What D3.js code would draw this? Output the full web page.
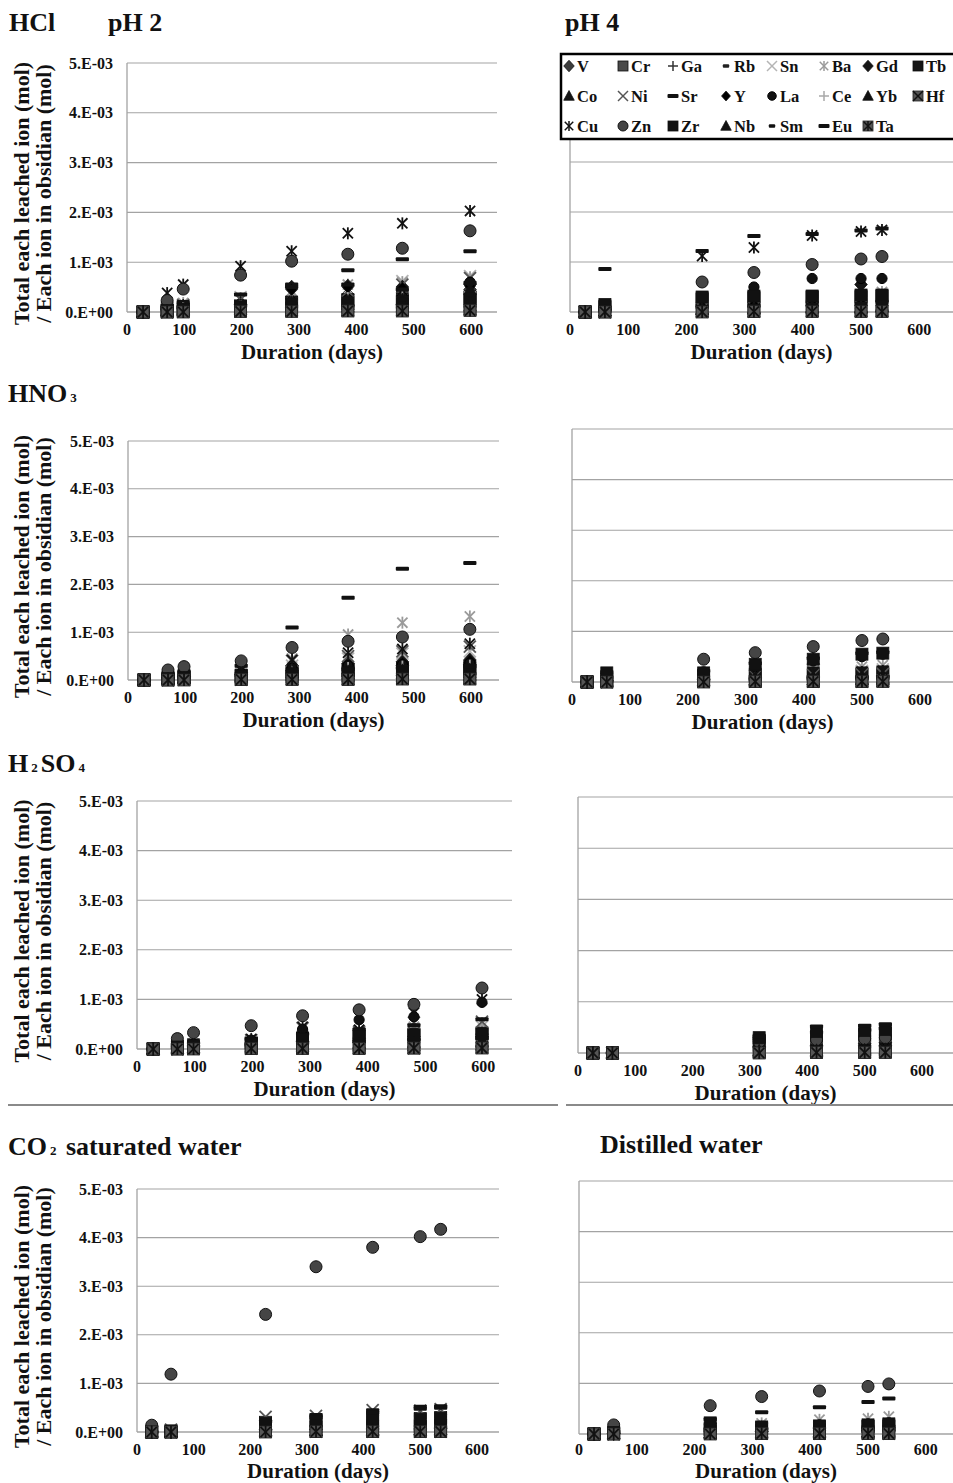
<!DOCTYPE html>
<html>
<head>
<meta charset="utf-8">
<script src="https://cdn.jsdelivr.net/npm/d3@7"></script>
<style>
  body { margin: 0; background: #fff; }
  svg { display: block; font-family: "Liberation Serif", "Times New Roman", serif; font-weight: bold; }
</style>
</head>
<body>
<svg id="chart" width="953" height="1483"></svg>
<script>
// ---------------------------------------------------------------------------
// Data: leached amount of each ion / amount of that ion in obsidian,
// values in units of 1E-03 (mol/mol). Rows follow the `elements` order.
// ---------------------------------------------------------------------------
const elements = ["V","Cr","Ga","Rb","Sn","Ba","Gd","Tb","Co","Ni","Sr","Y","La","Ce","Yb","Hf","Cu","Zn","Zr","Nb","Sm","Eu","Ta"];

// sampling days
const daysPH2 = [28, 70, 98, 198, 287, 385, 480, 598];
const daysPH4 = [26, 60, 227, 316, 416, 500, 536];

const xTickValues = [0, 100, 200, 300, 400, 500, 600];
const yTickValues = [0, 1, 2, 3, 4, 5];
const yTickLabels = ["0.E+00", "1.E-03", "2.E-03", "3.E-03", "4.E-03", "5.E-03"];

const hclPH2 = [
  [0.00,0.05,0.08,0.15,0.30,0.35,0.40,0.45], // V
  [0.00,0.04,0.06,0.12,0.18,0.22,0.25,0.30], // Cr
  [0.00,0.03,0.05,0.10,0.20,0.25,0.28,0.35], // Ga
  [0.00,0.02,0.04,0.08,0.12,0.15,0.18,0.22], // Rb
  [0.00,0.10,0.15,0.30,0.40,0.45,0.62,0.72], // Sn
  [0.00,0.12,0.18,0.28,0.42,0.55,0.60,0.70], // Ba
  [0.00,0.08,0.12,0.18,0.50,0.52,0.50,0.55], // Gd
  [0.00,0.04,0.06,0.12,0.20,0.25,0.22,0.30], // Tb
  [0.00,0.02,0.03,0.05,0.08,0.10,0.10,0.12], // Co
  [0.00,0.08,0.14,0.25,0.35,0.42,0.55,0.68], // Ni
  [0.00,0.10,0.20,0.35,0.55,0.84,1.06,1.22], // Sr
  [0.00,0.06,0.10,0.15,0.45,0.50,0.48,0.52], // Y
  [0.00,0.05,0.08,0.12,0.22,0.25,0.30,0.60], // La
  [0.00,0.05,0.08,0.12,0.22,0.28,0.30,0.40], // Ce
  [0.00,0.04,0.06,0.10,0.20,0.22,0.25,0.45], // Yb
  [0.00,0.00,0.01,0.02,0.03,0.03,0.04,0.05], // Hf
  [0.00,0.38,0.55,0.92,1.22,1.58,1.78,2.03], // Cu
  [0.00,0.23,0.46,0.74,1.02,1.16,1.28,1.63], // Zn
  [0.00,0.03,0.05,0.10,0.15,0.18,0.20,0.25], // Zr
  [0.00,0.02,0.04,0.08,0.12,0.15,0.18,0.20], // Nb
  [0.00,0.04,0.06,0.10,0.18,0.22,0.25,0.35], // Sm
  [0.00,0.05,0.08,0.12,0.50,0.55,0.45,0.58], // Eu
  [0.00,0.00,0.00,0.01,0.01,0.02,0.02,0.03]  // Ta
];

const hclPH4 = [
  [0.00,0.05,0.15,0.18,0.20,0.20,0.22], // V
  [0.00,0.10,0.25,0.28,0.30,0.30,0.32], // Cr
  [0.00,0.03,0.08,0.10,0.12,0.12,0.14], // Ga
  [0.00,0.02,0.06,0.08,0.10,0.10,0.12], // Rb
  [0.00,0.03,0.10,0.12,0.15,0.18,0.30], // Sn
  [0.00,0.05,0.15,0.20,0.25,0.30,0.40], // Ba
  [0.00,0.04,0.12,0.15,0.18,0.55,0.22], // Gd
  [0.00,0.12,0.28,0.30,0.30,0.32,0.32], // Tb
  [0.00,0.02,0.05,0.06,0.08,0.08,0.10], // Co
  [0.00,0.03,0.08,0.10,0.12,0.12,0.15], // Ni
  [0.00,0.86,1.22,1.52,1.56,1.63,1.67], // Sr
  [0.00,0.04,0.10,0.14,0.16,0.18,0.20], // Y
  [0.00,0.06,0.30,0.50,0.67,0.67,0.67], // La
  [0.00,0.03,0.08,0.10,0.12,0.14,0.16], // Ce
  [0.00,0.03,0.06,0.08,0.10,0.10,0.12], // Yb
  [0.00,0.00,0.01,0.01,0.02,0.02,0.02], // Hf
  [0.00,0.05,1.12,1.29,1.53,1.61,1.64], // Cu
  [0.00,0.08,0.60,0.79,0.95,1.06,1.11], // Zn
  [0.00,0.15,0.30,0.32,0.32,0.34,0.34], // Zr
  [0.00,0.02,0.05,0.06,0.08,0.08,0.10], // Nb
  [0.00,0.03,0.08,0.10,0.12,0.12,0.14], // Sm
  [0.00,0.04,0.10,0.12,0.14,0.16,0.18], // Eu
  [0.00,0.00,0.00,0.01,0.01,0.01,0.01]  // Ta
];

const hno3PH2 = [
  [0.00,0.05,0.08,0.12,0.20,0.25,0.30,0.32], // V
  [0.00,0.04,0.06,0.10,0.15,0.20,0.22,0.25], // Cr
  [0.00,0.03,0.05,0.08,0.12,0.15,0.18,0.20], // Ga
  [0.00,0.02,0.04,0.06,0.10,0.12,0.14,0.16], // Rb
  [0.00,0.05,0.08,0.15,0.30,0.45,0.55,0.60], // Sn
  [0.00,0.08,0.12,0.22,0.45,0.95,1.20,1.33], // Ba
  [0.00,0.05,0.08,0.15,0.30,0.35,0.38,0.42], // Gd
  [0.00,0.04,0.06,0.10,0.18,0.22,0.25,0.28], // Tb
  [0.00,0.02,0.03,0.04,0.06,0.08,0.08,0.10], // Co
  [0.00,0.06,0.10,0.20,0.40,0.50,0.60,0.70], // Ni
  [0.00,0.12,0.18,0.30,1.10,1.72,2.33,2.45], // Sr
  [0.00,0.04,0.06,0.12,0.25,0.30,0.35,0.40], // Y
  [0.00,0.05,0.08,0.14,0.25,0.30,0.32,0.35], // La
  [0.00,0.04,0.06,0.10,0.20,0.25,0.28,0.30], // Ce
  [0.00,0.03,0.05,0.08,0.15,0.18,0.20,0.22], // Yb
  [0.00,0.00,0.01,0.01,0.02,0.02,0.03,0.03], // Hf
  [0.00,0.08,0.12,0.20,0.42,0.57,0.65,0.76], // Cu
  [0.00,0.21,0.28,0.40,0.68,0.81,0.90,1.06], // Zn
  [0.00,0.03,0.05,0.08,0.12,0.15,0.18,0.20], // Zr
  [0.00,0.02,0.04,0.06,0.10,0.12,0.14,0.15], // Nb
  [0.00,0.03,0.05,0.08,0.14,0.18,0.20,0.22], // Sm
  [0.00,0.04,0.06,0.10,0.18,0.22,0.25,0.28], // Eu
  [0.00,0.00,0.00,0.01,0.01,0.01,0.02,0.02]  // Ta
];

const hno3PH4 = [
  [0.00,0.02,0.05,0.06,0.08,0.08,0.10], // V
  [0.00,0.05,0.10,0.12,0.14,0.15,0.16], // Cr
  [0.00,0.02,0.04,0.05,0.06,0.07,0.08], // Ga
  [0.00,0.02,0.03,0.04,0.05,0.06,0.06], // Rb
  [0.00,0.03,0.10,0.18,0.20,0.22,0.25], // Sn
  [0.00,0.05,0.15,0.28,0.29,0.30,0.33], // Ba
  [0.00,0.03,0.06,0.08,0.10,0.10,0.12], // Gd
  [0.00,0.06,0.12,0.15,0.18,0.18,0.20], // Tb
  [0.00,0.01,0.02,0.03,0.04,0.04,0.05], // Co
  [0.00,0.03,0.08,0.12,0.14,0.15,0.16], // Ni
  [0.00,0.20,0.22,0.37,0.47,0.57,0.59], // Sr
  [0.00,0.02,0.05,0.07,0.08,0.09,0.10], // Y
  [0.00,0.04,0.20,0.30,0.42,0.50,0.55], // La
  [0.00,0.02,0.05,0.08,0.10,0.12,0.14], // Ce
  [0.00,0.02,0.04,0.05,0.45,0.07,0.08], // Yb
  [0.00,0.00,0.01,0.01,0.01,0.01,0.02], // Hf
  [0.00,0.04,0.10,0.15,0.18,0.20,0.22], // Cu
  [0.00,0.08,0.45,0.58,0.70,0.82,0.85], // Zn
  [0.00,0.18,0.18,0.35,0.45,0.55,0.57], // Zr
  [0.00,0.01,0.03,0.04,0.05,0.05,0.06], // Nb
  [0.00,0.02,0.04,0.05,0.06,0.07,0.08], // Sm
  [0.00,0.02,0.04,0.06,0.07,0.08,0.09], // Eu
  [0.00,0.00,0.00,0.01,0.01,0.01,0.01]  // Ta
];

const h2so4PH2 = [
  [0.00,0.04,0.06,0.10,0.15,0.18,0.20,0.25], // V
  [0.00,0.05,0.08,0.12,0.20,0.25,0.28,0.30], // Cr
  [0.00,0.03,0.04,0.08,0.12,0.15,0.18,0.20], // Ga
  [0.00,0.02,0.03,0.05,0.08,0.10,0.12,0.14], // Rb
  [0.00,0.05,0.08,0.15,0.25,0.30,0.40,0.45], // Sn
  [0.00,0.06,0.10,0.18,0.30,0.38,0.45,0.52], // Ba
  [0.00,0.04,0.06,0.10,0.18,0.22,0.25,0.30], // Gd
  [0.00,0.05,0.08,0.12,0.22,0.28,0.30,0.32], // Tb
  [0.00,0.01,0.02,0.03,0.05,0.06,0.07,0.08], // Co
  [0.00,0.05,0.08,0.18,0.42,0.35,0.53,0.55], // Ni
  [0.00,0.08,0.12,0.20,0.30,0.40,0.48,0.60], // Sr
  [0.00,0.03,0.05,0.08,0.15,0.18,0.22,0.25], // Y
  [0.00,0.06,0.10,0.18,0.40,0.59,0.65,0.94], // La
  [0.00,0.03,0.05,0.08,0.12,0.15,0.18,0.20], // Ce
  [0.00,0.02,0.04,0.06,0.10,0.12,0.14,0.16], // Yb
  [0.00,0.00,0.01,0.01,0.02,0.02,0.02,0.03], // Hf
  [0.00,0.06,0.10,0.20,0.45,0.39,0.73,1.00], // Cu
  [0.00,0.21,0.33,0.47,0.67,0.79,0.90,1.23], // Zn
  [0.00,0.04,0.06,0.10,0.20,0.25,0.28,0.30], // Zr
  [0.00,0.02,0.03,0.05,0.08,0.10,0.12,0.14], // Nb
  [0.00,0.02,0.04,0.06,0.10,0.12,0.15,0.18], // Sm
  [0.00,0.03,0.05,0.08,0.12,0.15,0.18,0.22], // Eu
  [0.00,0.00,0.00,0.01,0.01,0.01,0.02,0.02]  // Ta
];

// no sample was taken at day 227 in this series
const h2so4PH4 = [
  [0.00,0.00,null,0.10,0.12,0.14,0.15], // V
  [0.00,0.00,null,0.15,0.20,0.22,0.24], // Cr
  [0.00,0.00,null,0.06,0.08,0.10,0.10], // Ga
  [0.00,0.00,null,0.05,0.06,0.07,0.08], // Rb
  [0.00,0.00,null,0.08,0.12,0.15,0.18], // Sn
  [0.00,0.00,null,0.10,0.15,0.20,0.22], // Ba
  [0.00,0.00,null,0.12,0.15,0.18,0.20], // Gd
  [0.00,0.00,null,0.25,0.32,0.36,0.38], // Tb
  [0.00,0.00,null,0.02,0.03,0.04,0.04], // Co
  [0.00,0.00,null,0.08,0.10,0.12,0.14], // Ni
  [0.00,0.00,null,0.28,0.40,0.45,0.48], // Sr
  [0.00,0.00,null,0.10,0.12,0.14,0.16], // Y
  [0.00,0.00,null,0.20,0.25,0.30,0.32], // La
  [0.00,0.00,null,0.06,0.08,0.10,0.12], // Ce
  [0.00,0.00,null,0.05,0.06,0.08,0.08], // Yb
  [0.00,0.00,null,0.01,0.01,0.01,0.02], // Hf
  [0.00,0.00,null,0.05,0.07,0.08,0.10], // Cu
  [0.00,0.00,null,0.22,0.26,0.28,0.30], // Zn
  [0.00,0.00,null,0.30,0.42,0.44,0.46], // Zr
  [0.00,0.00,null,0.04,0.05,0.06,0.07], // Nb
  [0.00,0.00,null,0.05,0.06,0.07,0.08], // Sm
  [0.00,0.00,null,0.32,0.52,0.53,0.56], // Eu
  [0.00,0.00,null,0.00,0.01,0.01,0.01]  // Ta
];

const co2Water = [
  [0.00,0.00,0.05,0.06,0.08,0.08,0.10], // V
  [0.00,0.02,0.20,0.25,0.28,0.28,0.30], // Cr
  [0.00,0.00,0.03,0.04,0.05,0.05,0.06], // Ga
  [0.00,0.00,0.03,0.04,0.05,0.06,0.06], // Rb
  [0.00,0.01,0.08,0.10,0.12,0.14,0.15], // Sn
  [0.00,0.02,0.10,0.15,0.20,0.22,0.24], // Ba
  [0.00,0.00,0.04,0.05,0.06,0.06,0.07], // Gd
  [0.00,0.00,0.08,0.10,0.12,0.12,0.14], // Tb
  [0.00,0.00,0.02,0.03,0.03,0.04,0.04], // Co
  [0.00,0.05,0.31,0.33,0.45,0.44,0.47], // Ni
  [0.00,0.04,0.22,0.35,0.45,0.52,0.53], // Sr
  [0.00,0.00,0.04,0.05,0.06,0.06,0.07], // Y
  [0.00,0.02,0.12,0.15,0.18,0.20,0.22], // La
  [0.00,0.00,0.04,0.05,0.06,0.07,0.08], // Ce
  [0.00,0.00,0.03,0.04,0.05,0.05,0.06], // Yb
  [0.00,0.00,0.01,0.01,0.01,0.01,0.01], // Hf
  [0.00,0.02,0.08,0.10,0.12,0.13,0.14], // Cu
  [0.14,1.19,2.42,3.40,3.80,4.02,4.17], // Zn
  [0.00,0.02,0.18,0.22,0.25,0.26,0.28], // Zr
  [0.00,0.00,0.02,0.03,0.04,0.04,0.05], // Nb
  [0.00,0.00,0.03,0.04,0.05,0.05,0.06], // Sm
  [0.00,0.00,0.04,0.30,0.40,0.48,0.50], // Eu
  [0.00,0.00,0.00,0.01,0.01,0.01,0.01]  // Ta
];

const distilledWater = [
  [0.00,0.01,0.04,0.05,0.06,0.06,0.07], // V
  [0.00,0.02,0.10,0.12,0.14,0.15,0.16], // Cr
  [0.00,0.01,0.03,0.04,0.05,0.05,0.06], // Ga
  [0.00,0.01,0.03,0.04,0.04,0.05,0.05], // Rb
  [0.00,0.02,0.08,0.12,0.15,0.18,0.20], // Sn
  [0.00,0.03,0.15,0.21,0.28,0.30,0.34], // Ba
  [0.00,0.01,0.04,0.05,0.06,0.07,0.08], // Gd
  [0.00,0.02,0.10,0.12,0.14,0.15,0.16], // Tb
  [0.00,0.00,0.02,0.02,0.03,0.03,0.03], // Co
  [0.00,0.02,0.08,0.10,0.12,0.14,0.15], // Ni
  [0.00,0.05,0.29,0.43,0.53,0.63,0.70], // Sr
  [0.00,0.01,0.04,0.05,0.06,0.07,0.08], // Y
  [0.00,0.02,0.12,0.15,0.18,0.20,0.22], // La
  [0.00,0.01,0.04,0.05,0.06,0.07,0.08], // Ce
  [0.00,0.01,0.03,0.04,0.05,0.05,0.06], // Yb
  [0.00,0.00,0.01,0.01,0.01,0.01,0.01], // Hf
  [0.00,0.02,0.10,0.14,0.16,0.18,0.20], // Cu
  [0.00,0.18,0.56,0.74,0.85,0.94,0.99], // Zn
  [0.00,0.03,0.22,0.14,0.16,0.18,0.20], // Zr
  [0.00,0.01,0.02,0.03,0.04,0.04,0.05], // Nb
  [0.00,0.01,0.03,0.04,0.05,0.05,0.06], // Sm
  [0.00,0.02,0.08,0.10,0.12,0.14,0.15], // Eu
  [0.00,0.00,0.00,0.01,0.01,0.01,0.01]  // Ta
];

// ---------------------------------------------------------------------------
// Marker styles (Excel-like marker types)
// ---------------------------------------------------------------------------
const markerStyle = {
  V:  { shape: "diamond",    fill: "#3c3c3c" },
  Cr: { shape: "square",     fill: "#4a4a4a" },
  Ga: { shape: "plus",       stroke: "#333" },
  Rb: { shape: "shortdash",  fill: "#222" },
  Sn: { shape: "x",          stroke: "#b4b4b4" },
  Ba: { shape: "star",       stroke: "#9a9a9a" },
  Gd: { shape: "diamond",    fill: "#151515" },
  Tb: { shape: "square",     fill: "#151515" },
  Co: { shape: "triangle",   fill: "#151515" },
  Ni: { shape: "x",          stroke: "#555" },
  Sr: { shape: "longdash",   fill: "#111" },
  Y:  { shape: "diamond",    fill: "#000", scale: 0.85 },
  La: { shape: "circle",     fill: "#111", scale: 0.85 },
  Ce: { shape: "plus",       stroke: "#a8a8a8" },
  Yb: { shape: "triangle",   fill: "#111" },
  Hf: { shape: "squareX",    fill: "#555", stroke: "#111" },
  Cu: { shape: "star",       stroke: "#111" },
  Zn: { shape: "circle",     fill: "#454545", stroke: "#111" },
  Zr: { shape: "square",     fill: "#111" },
  Nb: { shape: "triangle",   fill: "#111" },
  Sm: { shape: "shortdash",  fill: "#111" },
  Eu: { shape: "longdash",   fill: "#111" },
  Ta: { shape: "squareStar", fill: "#555", stroke: "#111" }
};

function drawMarker(sel, el, cx, cy, size) {
  const st = markerStyle[el];
  const s = size * (st.scale || 1);
  const h = s / 2;
  const g = sel.append("g").attr("transform", `translate(${cx},${cy})`);
  const lineW = Math.max(1.4, s * 0.15);
  const lines = (segs, color) => segs.forEach(([x1, y1, x2, y2]) =>
    g.append("line").attr("x1", x1).attr("y1", y1).attr("x2", x2).attr("y2", y2)
      .attr("stroke", color).attr("stroke-width", lineW).attr("stroke-linecap", "butt"));
  const xSegs = [[-h, -h, h, h], [-h, h, h, -h]];
  const starSegs = [[-h * 0.85, -h * 0.85, h * 0.85, h * 0.85], [-h * 0.85, h * 0.85, h * 0.85, -h * 0.85], [0, -h, 0, h]];
  switch (st.shape) {
    case "circle":
      g.append("circle").attr("r", h).attr("fill", st.fill)
        .attr("stroke", st.stroke || "#000").attr("stroke-width", 1);
      break;
    case "square":
      g.append("rect").attr("x", -h).attr("y", -h).attr("width", s).attr("height", s)
        .attr("fill", st.fill).attr("stroke", "#111").attr("stroke-width", 0.8);
      break;
    case "diamond":
      g.append("path").attr("d", `M0,${-h * 1.15}L${h * 1.05},0L0,${h * 1.15}L${-h * 1.05},0Z`)
        .attr("fill", st.fill).attr("stroke", "#111").attr("stroke-width", 0.8);
      break;
    case "triangle":
      g.append("path").attr("d", `M0,${-h * 1.1}L${h * 1.05},${h * 0.85}L${-h * 1.05},${h * 0.85}Z`)
        .attr("fill", st.fill).attr("stroke", "#111").attr("stroke-width", 0.8);
      break;
    case "plus":
      lines([[-h, 0, h, 0], [0, -h, 0, h]], st.stroke);
      break;
    case "x":
      lines(xSegs, st.stroke);
      break;
    case "star":
      lines(starSegs, st.stroke);
      break;
    case "shortdash":
      g.append("rect").attr("x", -s * 0.32).attr("y", -1.8).attr("width", s * 0.64).attr("height", 3.6)
        .attr("fill", st.fill).attr("rx", 1);
      break;
    case "longdash":
      g.append("rect").attr("x", -s * 0.55).attr("y", -2).attr("width", s * 1.1).attr("height", 4)
        .attr("fill", st.fill).attr("rx", 1);
      break;
    case "squareX":
      g.append("rect").attr("x", -h).attr("y", -h).attr("width", s).attr("height", s)
        .attr("fill", st.fill).attr("stroke", "#222").attr("stroke-width", 0.8);
      lines(xSegs, st.stroke);
      break;
    case "squareStar":
      g.append("rect").attr("x", -h).attr("y", -h).attr("width", s).attr("height", s)
        .attr("fill", st.fill).attr("stroke", "#222").attr("stroke-width", 0.8);
      lines(starSegs, st.stroke);
      break;
  }
}

// ---------------------------------------------------------------------------
// Layout
// ---------------------------------------------------------------------------
const svg = d3.select("#chart");
const gridColor = "#a3a3a3";
const markerSize = 12;

const panels = [
  { values: hclPH2,        days: daysPH2, left: 127, right: 497, top: 63,   bottom: 312,  xMax: 645, yAxis: true },
  { values: hclPH4,        days: daysPH4, left: 570, right: 953, top: 62,   bottom: 312,  xMax: 658, yAxis: false },
  { values: hno3PH2,       days: daysPH2, left: 128, right: 499, top: 441,  bottom: 680,  xMax: 649, yAxis: true },
  { values: hno3PH4,       days: daysPH4, left: 572, right: 953, top: 429,  bottom: 682,  xMax: 657, yAxis: false },
  { values: h2so4PH2,      days: daysPH2, left: 137, right: 512, top: 801,  bottom: 1049, xMax: 650, yAxis: true },
  { values: h2so4PH4,      days: daysPH4, left: 578, right: 953, top: 797,  bottom: 1053, xMax: 654, yAxis: false },
  { values: co2Water,      days: daysPH4, left: 137, right: 499, top: 1189, bottom: 1432, xMax: 639, yAxis: true },
  { values: distilledWater,days: daysPH4, left: 579, right: 953, top: 1181, bottom: 1434, xMax: 647, yAxis: false }
];

panels.forEach(p => {
  const x = d3.scaleLinear().domain([0, p.xMax]).range([p.left, p.right]);
  const y = d3.scaleLinear().domain([0, 5]).range([p.bottom, p.top]);
  const g = svg.append("g");

  // horizontal gridlines
  g.selectAll("line.grid").data(yTickValues).join("line")
    .attr("x1", p.left).attr("x2", p.right)
    .attr("y1", d => y(d)).attr("y2", d => y(d))
    .attr("stroke", gridColor).attr("stroke-width", d => d === 0 ? 1.4 : 1.1);

  // vertical axis line
  g.append("line").attr("x1", p.left).attr("x2", p.left)
    .attr("y1", p.top).attr("y2", p.bottom)
    .attr("stroke", gridColor).attr("stroke-width", 1.3);

  // x tick labels (bottom row is squeezed against the page edge)
  g.selectAll("text.xt").data(xTickValues).join("text")
    .attr("x", d => x(d)).attr("y", Math.min(p.bottom + 23, 1455))
    .attr("text-anchor", "middle").attr("font-size", 16).attr("fill", "#111")
    .text(d => d);

  // y tick labels (left column only)
  if (p.yAxis) {
    g.selectAll("text.yt").data(yTickValues).join("text")
      .attr("x", p.left - 14).attr("y", d => y(d))
      .attr("dy", "0.35em").attr("text-anchor", "end")
      .attr("font-size", 16).attr("fill", "#111")
      .text((d, i) => yTickLabels[i]);

    const cy = (p.top + p.bottom) / 2 + 6;
    [["Total each leached ion (mol)", 21], ["/ Each ion in obsidian (mol)", 43]].forEach(([t, lx]) => {
      svg.append("text")
        .attr("transform", `translate(${lx},${cy}) rotate(-90)`)
        .attr("text-anchor", "middle").attr("dy", "0.35em")
        .attr("font-size", 22).attr("fill", "#111").text(t);
    });
  }

  // x axis title
  g.append("text").attr("x", (p.left + p.right) / 2).attr("y", Math.min(p.bottom + 47, 1478))
    .attr("text-anchor", "middle").attr("font-size", 21).attr("fill", "#111")
    .text("Duration (days)");

  // markers, series by series
  const mg = g.append("g");
  elements.forEach((el, i) => {
    p.values[i].forEach((v, j) => {
      if (v === null) return;
      drawMarker(mg, el, x(p.days[j]), y(v), markerSize);
    });
  });
});

// ---------------------------------------------------------------------------
// Titles
// ---------------------------------------------------------------------------
svg.append("text").attr("x", 9).attr("y", 31).attr("font-size", 26).attr("fill", "#111").text("HCl");
svg.append("text").attr("x", 108).attr("y", 31).attr("font-size", 26).attr("fill", "#111").text("pH 2");
svg.append("text").attr("x", 565).attr("y", 31).attr("font-size", 26).attr("fill", "#111").text("pH 4");

// title with small subscript digits
function subTitle(xp, yp, parts) {
  const t = svg.append("text").attr("x", xp).attr("y", yp).attr("font-size", 26).attr("fill", "#111");
  parts.forEach((s, k) => {
    const isSub = /^\d$/.test(s);
    const ts = t.append("tspan").text(s);
    if (isSub) ts.attr("font-size", 13).attr("dx", 3);
    else if (k > 0) ts.attr("dx", 3);
  });
}
subTitle(8, 402, ["HNO", "3"]);
subTitle(8, 772, ["H", "2", "SO", "4"]);
subTitle(8, 1155, ["CO", "2", " saturated water"]);
svg.append("text").attr("x", 600).attr("y", 1153).attr("font-size", 26).attr("fill", "#111").text("Distilled water");

// separators above the water panels
svg.append("line").attr("x1", 8).attr("x2", 558).attr("y1", 1105).attr("y2", 1105)
  .attr("stroke", "#8a8a8a").attr("stroke-width", 2);
svg.append("line").attr("x1", 566).attr("x2", 953).attr("y1", 1105).attr("y2", 1105)
  .attr("stroke", "#8a8a8a").attr("stroke-width", 2);

// ---------------------------------------------------------------------------
// Legend (8 columns, row-major in series order)
// ---------------------------------------------------------------------------
const legend = svg.append("g");
legend.append("rect").attr("x", 561).attr("y", 54).attr("width", 394).attr("height", 85)
  .attr("fill", "#fff").attr("stroke", "#000").attr("stroke-width", 2.5);
const colX = [569, 623, 673, 726, 772, 824, 868, 918];
const rowY = [66, 96, 126];
elements.forEach((el, i) => {
  const cx = colX[i % 8], cy = rowY[Math.floor(i / 8)];
  drawMarker(legend, el, cx, cy, 10);
  legend.append("text").attr("x", cx + 8).attr("y", cy).attr("dy", "0.35em")
    .attr("font-size", 16.5).attr("fill", "#111").text(el);
});
</script>
</body>
</html>
